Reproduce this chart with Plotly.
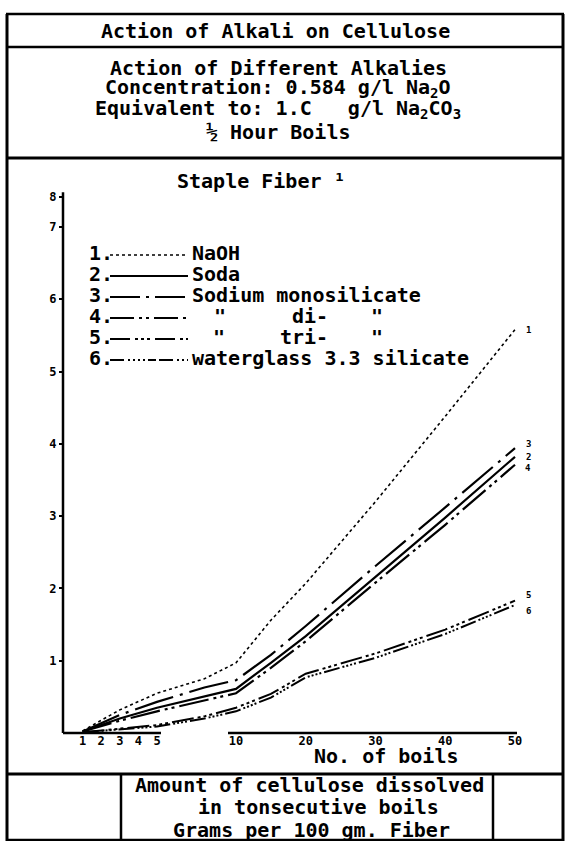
import numpy as np
import plotly.graph_objects as go

W, H = 568, 841

# ---------------- data ----------------
boils = [1, 3, 5, 8, 10, 15, 20, 30, 40, 50]
naoh  = [0.03, 0.32, 0.55, 0.75, 0.97, 1.56, 2.07, 3.20, 4.38, 5.58]
soda  = [0.02, 0.20, 0.35, 0.50, 0.61, 0.97, 1.34, 2.16, 2.98, 3.82]
mono  = [0.02, 0.25, 0.43, 0.63, 0.73, 1.08, 1.48, 2.31, 3.12, 3.94]
di    = [0.02, 0.17, 0.30, 0.45, 0.55, 0.90, 1.27, 2.08, 2.88, 3.71]
tri   = [0.01, 0.06, 0.11, 0.23, 0.35, 0.54, 0.82, 1.10, 1.43, 1.83]
water = [0.01, 0.05, 0.09, 0.20, 0.30, 0.49, 0.77, 1.04, 1.37, 1.77]

x_tick_boils = [1, 2, 3, 4, 5, 10, 20, 30, 40, 50]
x_tick_text = ["1", "2", "3", "4", "5", "10", "20", "30", "40", "50"]
y_tick_vals = [1, 2, 3, 4, 5, 6, 7, 7.42]
y_tick_text = ["1", "2", "3", "4", "5", "6", "7", "8"]

legend_names = ["NaOH", "Soda", "Sodium monosilicate", "di-", "tri-",
                "waterglass 3.3 silicate"]
end_labels = ["1", "2", "3", "4", "5", "6"]

# broken (piecewise) boil scale of the original drawing
BREAK_B = [0, 5, 10, 50]
BREAK_U = [0, 93, 172, 451]


def xu(b):
    return np.interp(b, BREAK_B, BREAK_U)


# ---------------- styles ----------------
FONT = "DejaVu Sans Mono"
INK = "black"
dashes = {
    "naoh": "3px,3px",
    "soda": "solid",
    "mono": "40px,7px,3px,7px",
    "di": "30px,5px,3px,4px,3px,5px",
    "tri": "22px,4px,3px,3px,3px,3px,3px,4px",
    "water": "16px,3px,2px,2px,2px,2px,2px,2px,2px,3px",
}
series = [
    (naoh, dashes["naoh"], 1.6),
    (soda, dashes["soda"], 2.2),
    (mono, dashes["mono"], 2.2),
    (di, dashes["di"], 2.2),
    (tri, dashes["tri"], 2.0),
    (water, dashes["water"], 2.0),
]

fig = go.Figure()
xs = xu(boils)
for vals, dash, w in series:
    fig.add_trace(go.Scatter(x=xs, y=vals, mode="lines",
                             line=dict(color=INK, width=w, dash=dash),
                             hoverinfo="skip"))


# pixel helpers for paper coordinates (margins are zero)
def px(x):
    return x / W


def py(y):
    return 1 - y / H


shapes = []


def hline(y, x0, x1, w=2.5):
    shapes.append(dict(type="line", xref="paper", yref="paper",
                       x0=px(x0), x1=px(x1), y0=py(y), y1=py(y),
                       line=dict(color=INK, width=w)))


def vline(x, y0, y1, w=2.5):
    shapes.append(dict(type="line", xref="paper", yref="paper",
                       x0=px(x), x1=px(x), y0=py(y0), y1=py(y1),
                       line=dict(color=INK, width=w)))


# frame
hline(14, 6, 564, 2.5)
hline(47, 6, 564, 2.5)
hline(158, 6, 564, 3)
hline(774, 6, 564, 3)
hline(840, 6, 564, 2.5)
vline(7, 14, 841, 3)
vline(563, 14, 841, 3)
vline(121, 774, 841, 2.5)
vline(493, 774, 841, 2.5)

# chart axis lines (data coordinates; x axis is broken like the original)
shapes.append(dict(type="line", xref="x", yref="y", x0=-1, x1=-1, y0=0, y1=7.48,
                   line=dict(color=INK, width=2.5)))
shapes.append(dict(type="line", xref="x", yref="y", x0=-1, x1=xu(5) + 4, y0=0, y1=0,
                   line=dict(color=INK, width=2.5)))
shapes.append(dict(type="line", xref="x", yref="y", x0=xu(10) - 8, x1=xu(50) + 2,
                   y0=0, y1=0, line=dict(color=INK, width=2.5)))

annotations = []


def text(x, y, s, size=20, anchor="center"):
    annotations.append(dict(xref="paper", yref="paper", x=px(x), y=py(y), text=s,
                            showarrow=False, xanchor=anchor, yanchor="middle",
                            font=dict(family=FONT, size=size, color=INK,
                                      weight="bold")))


NB = "\u00a0"
text(275, 31, "Action of Alkali on Cellulose")
text(278, 68, "Action of Different Alkalies")
text(278, 88, "Concentration: 0.584 g/l Na<sub>2</sub>O")
text(278, 109, "Equivalent to: 1.C" + NB * 3 + "g/l Na<sub>2</sub>CO<sub>3</sub>")
text(278, 132, "½ Hour Boils")
text(261, 181, "Staple Fiber ¹")
text(386, 756, "No. of boils")
text(309, 785, "Amount of cellulose dissolved")
text(318, 807, "in tonsecutive boils")
text(311, 830, "Grams per 100 gm. Fiber")

# hand-drawn legend
rows = [253, 274, 295, 316, 337, 358]
legend_dash = [dashes["naoh"], "solid", "30px,6px,3px,6px",
               "24px,5px,3px,4px,3px,5px", "20px,5px,3px,3px,3px,3px,3px,5px",
               "14px,4px,2px,3px,2px,3px,2px,3px,2px,3px,8px,3px"]
for i, (yy, dsh) in enumerate(zip(rows, legend_dash)):
    text(87, yy, f"{i + 1}.", anchor="left")
    shapes.append(dict(type="line", xref="paper", yref="paper",
                       x0=px(110), x1=px(188), y0=py(yy + 2), y1=py(yy + 2),
                       line=dict(color=INK, width=1.6 if i == 0 else 2.2, dash=dsh)))
for i in (0, 1, 2, 5):
    text(190, rows[i], legend_names[i], anchor="left")
text(220, rows[3], '"')
text(310, rows[3], legend_names[3])
text(377, rows[3], '"')
text(219, rows[4], '"')
text(304, rows[4], legend_names[4])
text(377, rows[4], '"')

# small numbers at the line ends
end_shift = [0, 0, 4, -3, 6, -6]
order_vals = [naoh, soda, mono, di, tri, water]
for lab, vals, sh in zip(end_labels, order_vals, end_shift):
    annotations.append(dict(xref="x", yref="y", x=xu(50) + 13, y=vals[-1],
                            yshift=sh, text=lab, showarrow=False,
                            font=dict(family=FONT, size=9, color=INK, weight="bold")))

y_lo = -(H - 733) / 72.3
y_hi = 733 / 72.3

fig.update_layout(
    width=W, height=H,
    margin=dict(l=0, r=0, t=0, b=0),
    paper_bgcolor="white", plot_bgcolor="white",
    showlegend=False, hovermode=False,
    shapes=shapes, annotations=annotations,
    xaxis=dict(domain=[0, 1], range=[-64, W - 64], anchor="free",
               position=(H - 733) / H, showgrid=False, zeroline=False,
               showline=False, ticks="", tickvals=list(xu(x_tick_boils)),
               ticktext=x_tick_text, automargin=False, fixedrange=True,
               ticklabelstandoff=-1,
               tickfont=dict(family=FONT, size=12, color=INK, weight="bold")),
    yaxis=dict(domain=[0, 1], range=[y_lo, y_hi], anchor="free",
               position=62 / W, showgrid=False, zeroline=False, showline=False,
               ticks="outside", ticklen=3, tickwidth=2, tickcolor=INK,
               tickvals=y_tick_vals, ticktext=y_tick_text, automargin=False,
               fixedrange=True,
               tickfont=dict(family=FONT, size=12, color=INK, weight="bold")),
)

fig.write_html("out.html")
